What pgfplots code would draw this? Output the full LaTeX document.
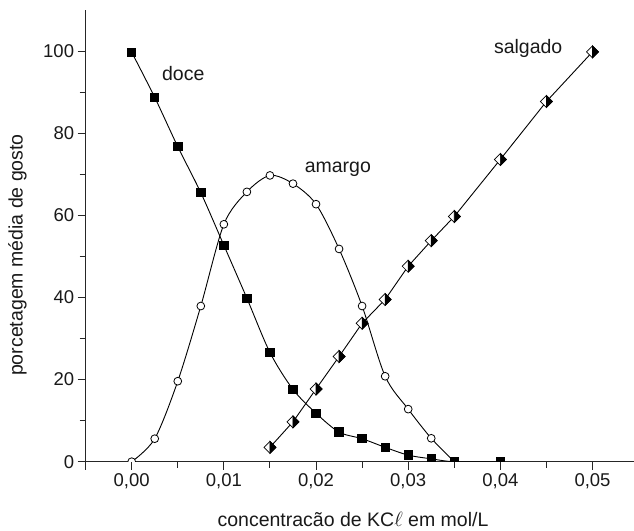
\documentclass[border=0pt]{standalone}
\usepackage{fontspec}
\setmainfont{Liberation Sans}
\usepackage{pgfplots}
\pgfplotsset{compat=1.18}

\pgfdeclareplotmark{halfdiamond}{%
  \pgfpathmoveto{\pgfpoint{0pt}{\pgfplotmarksize}}%
  \pgfpathlineto{\pgfpoint{\pgfplotmarksize}{0pt}}%
  \pgfpathlineto{\pgfpoint{0pt}{-\pgfplotmarksize}}%
  \pgfpathlineto{\pgfpoint{-\pgfplotmarksize}{0pt}}%
  \pgfpathclose
  \pgfsetfillcolor{white}%
  \pgfusepath{fill,stroke}%
  \pgfpathmoveto{\pgfpoint{0pt}{\pgfplotmarksize}}%
  \pgfpathlineto{\pgfpoint{\pgfplotmarksize}{0pt}}%
  \pgfpathlineto{\pgfpoint{0pt}{-\pgfplotmarksize}}%
  \pgfpathclose
  \pgfsetfillcolor{black}%
  \pgfusepath{fill,stroke}%
}

\begin{document}
\begin{tikzpicture}
\path[use as bounding box] (0,0) rectangle (634bp,531bp);
\begin{axis}[
  at={(85.6bp,69.3bp)}, anchor=south west,
  scale only axis, width=548.4bp, height=451.8bp,
  xmin=-0.005, xmax=0.0545, ymin=0, ymax=110,
  axis lines*=left,
  axis line style={line width=0.9bp, black!85},
  every tick/.style={line width=0.9bp, black!85},
  tick align=outside,
  major tick length=8bp, minor tick length=6bp,
  xtick={0,0.01,0.02,0.03,0.04,0.05},
  minor xtick={0.005,0.015,0.025,0.035,0.045},
  extra x ticks={-0.005}, extra x tick labels={},
  ytick={0,20,40,60,80,100},
  minor ytick={10,30,50,70,90},
  scaled x ticks=false,
  xticklabel style={/pgf/number format/.cd, fixed, fixed zerofill, precision=2, use comma},
  yticklabel style={/pgf/number format/.cd, fixed, precision=0},
  /pgf/number format/assume math mode=true,
  ticklabel style={font=\fontsize{18.5bp}{22bp}\selectfont, text=black!90},
  xlabel={concentracão de KC$\ell$ em mol/L},
  ylabel={porcetagem média de gosto},
  every axis x label/.style={at={(axis description cs:0.4876,-0.1439)}, anchor=base,
    font=\fontsize{19.5bp}{23bp}\selectfont, text=black!90},
  every axis y label/.style={at={(axis description cs:-0.1147,0.4575)}, rotate=90, anchor=base,
    font=\fontsize{19.5bp}{23bp}\selectfont, text=black!90},
  clip marker paths=true,
]
\addplot[black, line width=0.9bp, smooth, mark=*, mark size=3.9bp,
  mark options={fill=white, line width=0.8bp}] coordinates {
  (0,0) (0.0025,5.6) (0.005,19.6) (0.0075,37.9) (0.01,57.8) (0.0125,65.7)
  (0.015,69.7) (0.0175,67.7) (0.02,62.7) (0.0225,51.8) (0.025,37.9)
  (0.0275,20.8) (0.03,12.8) (0.0325,5.7) (0.035,0)
};
\addplot[black, line width=0.9bp, smooth, mark=square*, mark size=4.2bp,
  mark options={fill=black}] coordinates {
  (0,99.7) (0.0025,88.7) (0.005,76.7) (0.0075,65.5) (0.01,52.7) (0.0125,39.8)
  (0.015,26.6) (0.0175,17.6) (0.02,11.8) (0.0225,7.2) (0.025,5.6)
  (0.0275,3.5) (0.03,1.6) (0.0325,0.7) (0.035,0) (0.04,0)
};
\addplot[black, line width=0.9bp, mark=halfdiamond, mark size=6bp,
  mark options={line width=0.7bp}] coordinates {
  (0.015,3.5) (0.0175,9.7) (0.02,17.7) (0.0225,25.6) (0.025,33.7)
  (0.0275,39.5) (0.03,47.6) (0.0325,53.8) (0.035,59.7) (0.04,73.6)
  (0.045,87.7) (0.05,99.8)
};
\node[anchor=base, font=\fontsize{19.5bp}{23bp}\selectfont, text=black!90] at (axis cs:0.0056,92.8) {doce};
\node[anchor=base, font=\fontsize{19.5bp}{23bp}\selectfont, text=black!90] at (axis cs:0.02237,70.5) {amargo};
\node[anchor=base, font=\fontsize{19.5bp}{23bp}\selectfont, text=black!90] at (axis cs:0.04302,99.4) {salgado};
\end{axis}
\end{tikzpicture}
\end{document}
